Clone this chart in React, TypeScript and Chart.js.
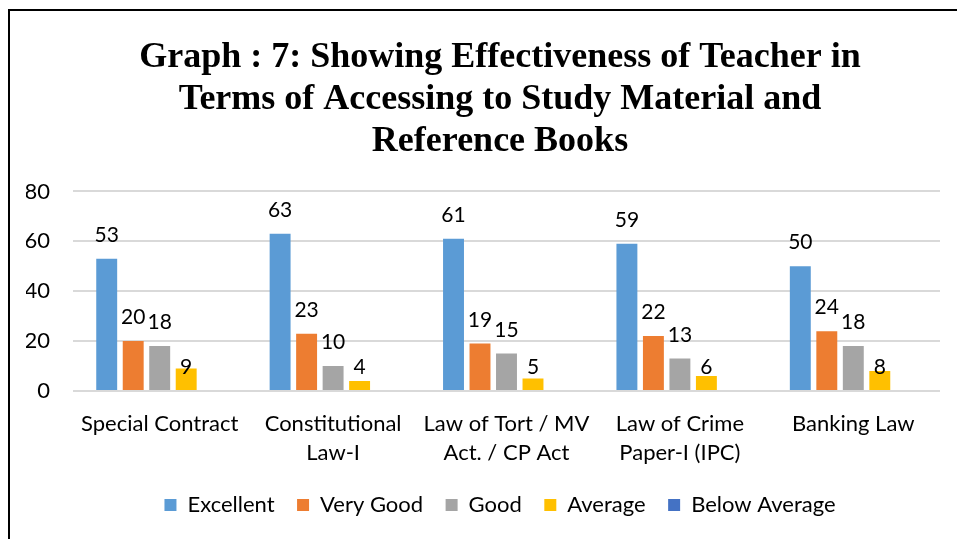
import React, { useEffect, useRef } from "react";
import { Chart, registerables } from "chart.js";

Chart.register(...registerables);

const categories: (string | string[])[] = [
  "Special Contract",
  ["Constitutional", "Law-I"],
  ["Law of Tort / MV", "Act. / CP Act"],
  ["Law of Crime", "Paper-I (IPC)"],
  "Banking Law",
];
const seriesNames = ["Excellent", "Very Good", "Good", "Average", "Below Average"];
const excellent = [53, 63, 61, 59, 50];
const veryGood = [20, 23, 19, 22, 24];
const good = [18, 10, 15, 13, 18];
const average = [9, 4, 5, 6, 8];
const belowAverage: (number | null)[] = [null, null, null, null, null];
const seriesColors = ["#5B9BD5", "#ED7D31", "#A5A5A5", "#FFC000", "#4472C4"];
const yMin = 0;
const yMax = 80;
const yStep = 20;
const titleLines = [
  "Graph : 7: Showing Effectiveness of Teacher in",
  "Terms of Accessing to Study Material and",
  "Reference Books",
];

const FONT = "Lato";

const valueLabels = {
  id: "valueLabels",
  afterDatasetsDraw(chart: any) {
    const ctx = chart.ctx;
    const y0 = chart.scales.y.getPixelForValue(0);
    ctx.save();
    ctx.font = `21px ${FONT}`;
    ctx.fillStyle = "#000";
    ctx.textAlign = "center";
    ctx.textBaseline = "alphabetic";
    chart.data.datasets.forEach((ds: any, i: number) => {
      const meta = chart.getDatasetMeta(i);
      meta.data.forEach((el: any, j: number) => {
        const v = ds.data[j];
        if (v === null || v === undefined) return;
        const base = v < 10 ? y0 - 17 : el.y - 17;
        ctx.fillText(String(v), el.x, base);
      });
    });
    ctx.restore();
  },
};

export default function App() {
  const ref = useRef<HTMLCanvasElement | null>(null);

  useEffect(() => {
    if (!ref.current) return;
    const allSeries = [excellent, veryGood, good, average, belowAverage];
    const chart = new Chart(ref.current, {
      type: "bar",
      data: {
        labels: categories,
        datasets: allSeries.map((d, i) => ({
          label: seriesNames[i],
          data: d,
          backgroundColor: seriesColors[i],
          borderWidth: 0,
          barPercentage: 0.79,
          categoryPercentage: 0.764,
          yAxisID: "y",
        })),
      },
      options: {
        animation: false,
        responsive: true,
        maintainAspectRatio: false,
        layout: { padding: { left: 16, right: 14, top: 0, bottom: 13 } },
        plugins: {
          tooltip: { enabled: false },
          title: {
            display: true,
            text: titleLines,
            color: "#000",
            font: { family: "'Liberation Serif'", size: 36, weight: "bold", lineHeight: 1.18 },
            padding: { top: 25, bottom: 28 },
          },
          legend: {
            position: "bottom",
            labels: {
              boxWidth: 12,
              boxHeight: 12,
              padding: 22.5,
              color: "#000",
              font: { family: FONT, size: 22 },
            },
          },
        },
        scales: {
          x: {
            grid: { display: false },
            border: { display: false },
            ticks: {
              color: "#000",
              font: { family: FONT, size: 22, lineHeight: 1.32 },
              padding: 10,
              maxRotation: 0,
              autoSkip: false,
            },
            afterFit: (s: any) => {
              s.height = 80.5;
            },
          },
          y: {
            position: "left",
            min: yMin,
            max: yMax,
            border: { display: false },
            grid: { color: "#D9D9D9", lineWidth: 2, drawTicks: false },
            ticks: {
              stepSize: yStep,
              color: "#000",
              font: { family: FONT, size: 22 },
              padding: 23,
            },
            afterFit: (s: any) => {
              s.width = 47;
            },
          },
          yRight: {
            position: "right",
            display: true,
            min: yMin,
            max: yMax,
            border: { display: false },
            grid: { display: false, drawOnChartArea: false },
            ticks: { display: false },
            afterFit: (s: any) => {
              s.width = 34;
            },
          },
        },
      },
      plugins: [valueLabels],
    });
    return () => chart.destroy();
  }, []);

  return (
    <div style={{ position: "fixed", left: 0, top: 0, width: 957, height: 539, overflow: "hidden", background: "#fff" }}>
      <div
        style={{
          position: "absolute",
          left: 8,
          top: 9,
          width: 1000,
          height: 600,
          borderTop: "2px solid #000",
          borderLeft: "2px solid #000",
        }}
      >
        <div style={{ position: "relative", width: 978, height: 528 }}>
          <canvas ref={ref} />
        </div>
      </div>
    </div>
  );
}
